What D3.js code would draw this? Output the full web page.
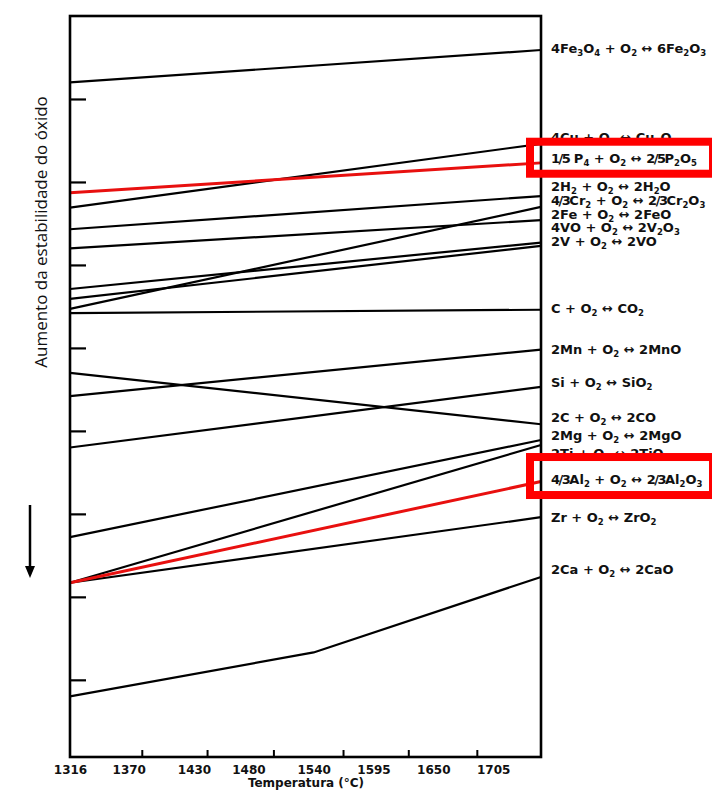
<!DOCTYPE html>
<html>
<head>
<meta charset="utf-8">
<script src="https://cdn.jsdelivr.net/npm/d3@7"></script>
<style>
  body { margin: 0; background: #fff; }
  text { fill: #111; }
</style>
</head>
<body>
<svg id="chart" width="712" height="792"></svg>
<script>
// reactions, top to bottom as labelled on the right ( _n = subscript )
var reactions = [
  "4Fe_3O_4 + O_2 \u2194 6Fe_2O_3",
  "4Cu + O_2 \u2194 Cu_2O",
  "1/5 P_4 + O_2 \u2194 2/5P_2O_5",
  "2H_2 + O_2 \u2194 2H_2O",
  "4/3Cr_2 + O_2 \u2194 2/3Cr_2O_3",
  "2Fe + O_2 \u2194 2FeO",
  "4VO + O_2 \u2194 2V_2O_3",
  "2V + O_2 \u2194 2VO",
  "C + O_2 \u2194 CO_2",
  "2Mn + O_2 \u2194 2MnO",
  "Si + O_2 \u2194 SiO_2",
  "2C + O_2 \u2194 2CO",
  "2Mg + O_2 \u2194 2MgO",
  "2Ti + O_2 \u2194 2TiO",
  "4/3Al_2 + O_2 \u2194 2/3Al_2O_3",
  "Zr + O_2 \u2194 ZrO_2",
  "2Ca + O_2 \u2194 2CaO"
];

// free energy (arbitrary units) at the two ends of the range
var tMin = 1316, tMax = 1749;
var gAtMin = [-80, -231, -213, -257, -353, -280, -329, -341, -358, -458, -520, -430, -628, -683, -683, -683, -820];
var gAtMax = [-41, -154, -177, -217, -230, -246, -273, -277, -354, -402, -447, -492, -511, -517, -561, -604, -676];
// where each label sits (same units)
var labelAt = [-39, -146, -172, -206, -222, -239, -255, -272, -352, -402, -442, -484, -505, -527, -558, -604, -667];
// the CaO line bends once
var caBend = { t: 1540, g: -767 };
// reactions drawn and boxed in red
var highlighted = [2, 14];

var tickLabels = [1316, 1370, 1430, 1480, 1540, 1595, 1650, 1705];
var tickMarks = [1382, 1442, 1503, 1567, 1627, 1690];
var gTicks = [-100, -200, -300, -400, -500, -600, -700, -800];

var svg = d3.select("#chart"),
    plotL = 70, plotR = 541, plotT = 16, plotB = 757;

var x = d3.scaleLinear().domain([tMin, tMax]).range([plotL, plotR]);
var y = d3.scaleLinear().domain([0, -893]).range([plotT, plotB]);

// series points
var series = reactions.map(function(r, i) {
  var pts = [[tMin, gAtMin[i]]];
  if (i == reactions.length - 1) pts.push([caBend.t, caBend.g]);
  pts.push([tMax, gAtMax[i]]);
  return { label: r, points: pts, red: highlighted.indexOf(i) >= 0, labelG: labelAt[i] };
});

var line = d3.line()
  .x(function(d) { return x(d[0]); })
  .y(function(d) { return y(d[1]); });

// lines (black first, red on top)
svg.append("g")
  .attr("class", "lines")
  .selectAll("path")
  .data(series.slice().sort(function(a, b) { return a.red - b.red; }))
  .enter().append("path")
  .attr("d", function(d) { return line(d.points); })
  .attr("fill", "none")
  .attr("stroke", function(d) { return d.red ? "#e8100f" : "#000"; })
  .attr("stroke-width", function(d) { return d.red ? 3 : 2.2; });

// frame
svg.append("rect")
  .attr("x", plotL).attr("y", plotT)
  .attr("width", plotR - plotL).attr("height", plotB - plotT)
  .attr("fill", "none").attr("stroke", "#000").attr("stroke-width", 2.6);

// inner ticks on the left side
svg.append("g")
  .attr("transform", "translate(" + plotL + ",0)")
  .call(d3.axisLeft(y).tickValues(gTicks).tickSize(-16).tickFormat(""))
  .call(function(g) {
    g.select(".domain").remove();
    g.selectAll("text").remove();
    g.selectAll("line").attr("stroke", "#000").attr("stroke-width", 2.2);
  });

// inner ticks on the bottom
svg.append("g")
  .attr("transform", "translate(0," + plotB + ")")
  .call(d3.axisBottom(x).tickValues(tickMarks).tickSize(-7).tickFormat(""))
  .call(function(g) {
    g.select(".domain").remove();
    g.selectAll("text").remove();
    g.selectAll("line").attr("stroke", "#000").attr("stroke-width", 2);
  });

// temperature labels
svg.append("g")
  .attr("transform", "translate(0," + plotB + ")")
  .call(d3.axisBottom(x).tickValues(tickLabels).tickSize(0).tickPadding(8).tickFormat(d3.format("d")))
  .call(function(g) {
    g.select(".domain").remove();
    g.selectAll("text")
      .attr("font-family", "DejaVu Sans")
      .attr("font-weight", "bold")
      .attr("font-size", 12)
      .attr("fill", "#111");
  });

svg.append("text")
  .attr("x", 306).attr("y", 787)
  .attr("text-anchor", "middle")
  .attr("font-family", "DejaVu Sans")
  .attr("font-weight", "bold")
  .attr("font-size", 12)
  .text("Temperatura (\u00b0C)");

// reaction labels with subscripts (fractions set a little tighter)
var labels = svg.append("g")
  .attr("class", "labels")
  .selectAll("text")
  .data(series)
  .enter().append("text")
  .attr("x", plotR + 10)
  .attr("y", function(d) { return y(d.labelG) + 4.5; })
  .attr("font-family", "DejaVu Sans")
  .attr("font-weight", "bold")
  .attr("font-size", 13);

labels.each(function(d) {
  var t = d3.select(this), lowered = false;
  d.label.split(/(_\d|\d\/\d)/).forEach(function(part) {
    if (!part) return;
    var s;
    if (part[0] == "_") {
      t.append("tspan").attr("font-size", 8.5).attr("dy", 3).text(part.slice(1));
      lowered = true;
      return;
    }
    s = t.append("tspan").attr("dy", lowered ? -3 : null).text(part);
    if (part.indexOf("/") > 0) s.attr("letter-spacing", -1.5);
    lowered = false;
  });
});

// red boxes around highlighted labels
var boxPad = [[17, 15], [22, 16]];
svg.append("g")
  .selectAll("rect")
  .data(series.filter(function(d) { return d.red; }))
  .enter().append("rect")
  .attr("x", plotR - 11)
  .attr("y", function(d, i) { return y(d.labelG) - boxPad[i][0]; })
  .attr("width", 183)
  .attr("height", function(d, i) { return boxPad[i][0] + boxPad[i][1]; })
  .attr("fill", "none")
  .attr("stroke", "#ff0000")
  .attr("stroke-width", 8);

// y title and arrow
svg.append("text")
  .attr("transform", "translate(40,232) rotate(-90)")
  .attr("text-anchor", "middle")
  .attr("dominant-baseline", "central")
  .attr("font-family", "Open Sans")
  .attr("font-size", 17)
  .text("Aumento da estabilidade do \u00f3xido");

svg.append("line")
  .attr("x1", 30).attr("y1", 505).attr("x2", 30).attr("y2", 568)
  .attr("stroke", "#000").attr("stroke-width", 2.5);
svg.append("path")
  .attr("d", "M25,566 L35,566 L30,578 Z")
  .attr("fill", "#000");
</script>
</body>
</html>
